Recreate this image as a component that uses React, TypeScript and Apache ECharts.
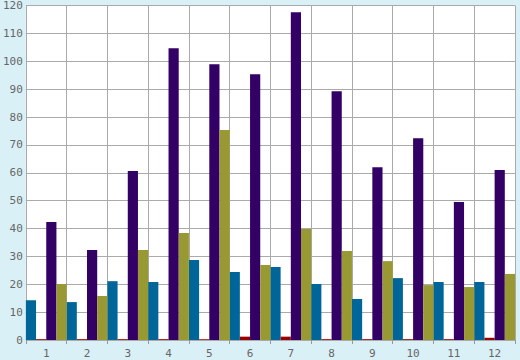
import React, { useEffect, useRef } from "react";
import * as echarts from "echarts";

const categories = ["1", "2", "3", "4", "5", "6", "7", "8", "9", "10", "11", "12"];
const tealValues = [14.3, 13.6, 21.1, 20.8, 28.7, 24.4, 26.2, 20.1, 14.7, 22.2, 20.8, 20.8];
const redValues = [0.3, 0.3, 0.3, 0.3, 0.3, 1.2, 1.2, 0.3, 0.3, 0.3, 0.3, 0.8];
const purpleValues = [42.3, 32.3, 60.6, 104.7, 98.9, 95.3, 117.6, 89.2, 62, 72.4, 49.5, 61];
const oliveValues = [20.1, 15.8, 32.3, 38.4, 75.3, 26.9, 39.8, 31.9, 28.3, 19.7, 19, 23.7];

export default function App() {
  const ref = useRef<HTMLDivElement>(null);
  useEffect(() => {
    if (!ref.current) return;
    const chart = echarts.init(ref.current, null, { renderer: "svg" });
    const font = "'DejaVu Sans Mono', monospace";
    const mk = (name: string, data: number[], color: string) => ({
      name,
      type: "bar",
      data,
      itemStyle: { color },
      barGap: "0%",
      barCategoryGap: "0%",
    });
    chart.setOption({
      animation: false,
      backgroundColor: "#daf0f7",
      grid: {
        left: 25,
        right: 5,
        top: 5,
        bottom: 20,
        show: true,
        backgroundColor: "#ffffff",
        borderWidth: 0,
      },
      xAxis: {
        type: "category",
        data: categories,
        axisLine: { show: false },
        axisTick: { show: true, length: 4, lineStyle: { color: "#999" } },
        axisLabel: { color: "#666", fontFamily: font, fontSize: 11, margin: 8 },
        splitLine: { show: true, lineStyle: { color: "#aaa", width: 1 } },
      },
      yAxis: {
        type: "value",
        min: 0,
        max: 120,
        interval: 10,
        axisLine: { show: false },
        axisTick: { show: false },
        axisLabel: { color: "#666", fontFamily: font, fontSize: 11, margin: 3 },
        splitLine: { show: true, lineStyle: { color: "#aaa", width: 1 } },
      },
      series: [
        mk("A", tealValues, "#006699"),
        mk("B", redValues, "#990000"),
        mk("C", purpleValues, "#330066"),
        mk("D", oliveValues, "#999933"),
      ],
    });
    return () => chart.dispose();
  }, []);
  return <div ref={ref} style={{ width: 520, height: 360, position: "absolute", left: 0, top: 0 }} />;
}
